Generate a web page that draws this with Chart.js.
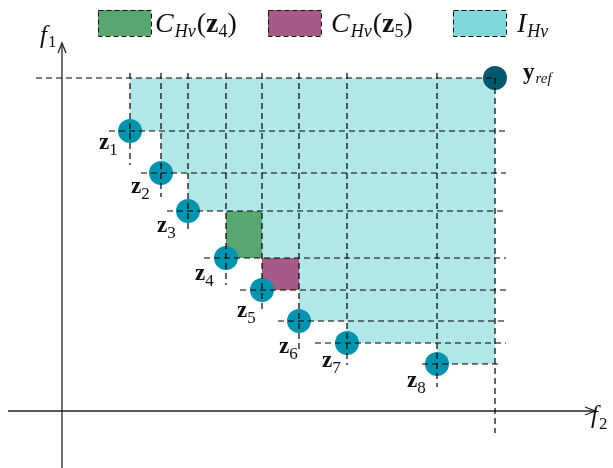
<!DOCTYPE html>
<html>
<head>
<meta charset="utf-8">
<script src="https://cdn.jsdelivr.net/npm/chart.js@4.4.0/dist/chart.umd.min.js"></script>
<style>
  html, body { margin: 0; padding: 0; background: #fff; }
</style>
</head>
<body>
<canvas id="c" width="613" height="468"></canvas>
<script>
// points z1..z8 in (f2, f1)
const zNames = ['1', '2', '3', '4', '5', '6', '7', '8'];
const zF2 = [68, 99, 126, 164, 200, 237, 285, 375];
const zF1 = [280, 238, 200, 153, 121, 90, 68, 47];
// reference point
const refF2 = 433;
const refF1 = 333;
// dashed guide extents
const hStart = [47, 79, 105, 142, 178, 216, 253, 360];
const hEnd = [444, 444, 444, 444, 444, 444, 444, 436];
const refHStart = -26;
const vTop = 338;
const vBottom = [246, 214, 179, 126, 99, 58, 46, 24];
const refVBottom = -22;
// axes
const axisF2 = [-54, 533];
const axisF1 = [-57, 368];

const SERIF = '"Liberation Serif", "DejaVu Serif", serif';
const DASH = [6, 4];
const labelOff = [[-31, 18], [-30, 20], [-31, 21], [-31, 22], [-25, 27], [-20, 32], [-25, 24], [-30, 23]];

function lineSet(pts, dashed) {
    return {
        type: 'line', data: pts, showLine: true, pointRadius: 0, order: 0,
        borderColor: dashed ? '#000' : '#222', borderWidth: dashed ? 1.2 : 1.3,
        borderDash: dashed ? DASH : [], fill: false, tension: 0
    };
}

const datasets = [];
zF2.forEach((x, i) => {
    datasets.push(lineSet([{ x: hStart[i], y: zF1[i] }, { x: hEnd[i], y: zF1[i] }], true));
    datasets.push(lineSet([{ x: x, y: vTop }, { x: x, y: vBottom[i] }], true));
});
datasets.push(lineSet([{ x: refHStart, y: refF1 }, { x: refF2, y: refF1 }], true));
datasets.push(lineSet([{ x: refF2, y: refF1 }, { x: refF2, y: refVBottom }], true));
// axes + arrow heads
datasets.push(lineSet([{ x: axisF2[0], y: 0 }, { x: axisF2[1], y: 0 }], false));
datasets.push(lineSet([{ x: 0, y: axisF1[0] }, { x: 0, y: axisF1[1] }], false));
datasets.push(lineSet([{ x: axisF2[1] - 10, y: 4 }, { x: axisF2[1], y: 0 }, { x: axisF2[1] - 10, y: -4 }], false));
datasets.push(lineSet([{ x: -4, y: axisF1[1] - 10 }, { x: 0, y: axisF1[1] }, { x: 4, y: axisF1[1] - 10 }], false));
// points
datasets.push({
    type: 'scatter', order: 1,
    data: zF2.map((x, i) => ({ x: x, y: zF1[i] })),
    pointRadius: 12, pointHoverRadius: 12, backgroundColor: '#0093ae', borderWidth: 0
});
datasets.push({
    type: 'scatter', order: 1,
    data: [{ x: refF2, y: refF1 }],
    pointRadius: 12, pointHoverRadius: 12, backgroundColor: '#00586a', borderWidth: 0
});

function rich(ctx, x, y, parts) {
    parts.forEach(p => {
        ctx.font = p.f;
        ctx.fillText(p.t, x, y + (p.dy || 0));
        x += ctx.measureText(p.t).width + (p.sp || 0);
    });
}

const regions = {
    id: 'regions',
    beforeDatasetsDraw(chart) {
        const ctx = chart.ctx, xs = chart.scales.x, ys = chart.scales.y;
        const P = (a, b) => [xs.getPixelForValue(a), ys.getPixelForValue(b)];
        const n = zF2.length;
        const poly = [[zF2[0], refF1], [refF2, refF1], [refF2, zF1[n - 1]]];
        for (let i = n - 1; i >= 1; i--) {
            poly.push([zF2[i], zF1[i]]);
            poly.push([zF2[i], zF1[i - 1]]);
        }
        poly.push([zF2[0], zF1[0]]);
        ctx.save();
        ctx.fillStyle = '#b2e6e7';
        ctx.beginPath();
        poly.forEach((p, k) => { const q = P(p[0], p[1]); k ? ctx.lineTo(q[0], q[1]) : ctx.moveTo(q[0], q[1]); });
        ctx.closePath();
        ctx.fill();
        // contributions of z4 and z5
        const rect = (i, col) => {
            const a = P(zF2[i], zF1[i - 1]), b = P(zF2[i + 1], zF1[i]);
            ctx.fillStyle = col;
            ctx.fillRect(a[0], a[1], b[0] - a[0], b[1] - a[1]);
        };
        rect(3, '#5aa673');
        rect(4, '#a65a8a');
        ctx.restore();
    },
    afterDraw(chart) {
        const ctx = chart.ctx, xs = chart.scales.x, ys = chart.scales.y;
        ctx.save();
        ctx.fillStyle = '#111';
        ctx.textBaseline = 'alphabetic';
        zF2.forEach((x, i) => {
            const px = xs.getPixelForValue(x) + labelOff[i][0];
            const py = ys.getPixelForValue(zF1[i]) + labelOff[i][1];
            rich(ctx, px, py, [
                { t: 'z', f: 'bold 23px ' + SERIF },
                { t: zNames[i], f: '17px ' + SERIF, dy: 6 }
            ]);
        });
        rich(ctx, xs.getPixelForValue(refF2) + 28, ys.getPixelForValue(refF1) + 1, [
            { t: 'y', f: 'bold 23px ' + SERIF, sp: 1 },
            { t: 'ref', f: 'italic 15px ' + SERIF, dy: 4 }
        ]);
        // axis labels
        rich(ctx, 40, 43, [{ t: 'f', f: 'italic 25px ' + SERIF, sp: 1 }, { t: '1', f: '17px ' + SERIF, dy: 4 }]);
        rich(ctx, 591, 423, [{ t: 'f', f: 'italic 25px ' + SERIF, sp: 1 }, { t: '2', f: '17px ' + SERIF, dy: 6 }]);
        // legend
        const sw = (x, col) => {
            ctx.fillStyle = col;
            ctx.fillRect(x, 10, 53, 26);
            ctx.strokeStyle = '#111';
            ctx.lineWidth = 1;
            ctx.setLineDash([5, 3]);
            ctx.strokeRect(x + 0.5, 10.5, 53, 26);
            ctx.setLineDash([]);
            ctx.fillStyle = '#111';
        };
        const cParts = d => [
            { t: 'C', f: 'italic 28px ' + SERIF, sp: 1 },
            { t: 'Hv', f: 'italic 18px ' + SERIF, dy: 5, sp: 1 },
            { t: '(', f: '28px ' + SERIF },
            { t: 'z', f: 'bold 28px ' + SERIF },
            { t: d, f: '18px ' + SERIF, dy: 5 },
            { t: ')', f: '28px ' + SERIF }
        ];
        sw(98, '#5aa673');
        rich(ctx, 155, 32, cParts('4'));
        sw(268, '#a65a8a');
        rich(ctx, 331, 32, cParts('5'));
        sw(453, '#80d8d8');
        rich(ctx, 517, 32, [{ t: 'I', f: 'italic 28px ' + SERIF, sp: 1 }, { t: 'Hv', f: 'italic 18px ' + SERIF, dy: 5 }]);
        ctx.restore();
    }
};

new Chart(document.getElementById('c'), {
    type: 'scatter',
    data: { datasets: datasets },
    options: {
        responsive: false, animation: false, devicePixelRatio: 1,
        layout: { padding: 0, autoPadding: false },
        plugins: { legend: { display: false }, tooltip: { enabled: false } },
        scales: {
            x: { type: 'linear', min: -62, max: 551, display: false },
            y: { type: 'linear', min: -57, max: 411, display: false }
        }
    },
    plugins: [regions]
});
</script>
</body>
</html>
